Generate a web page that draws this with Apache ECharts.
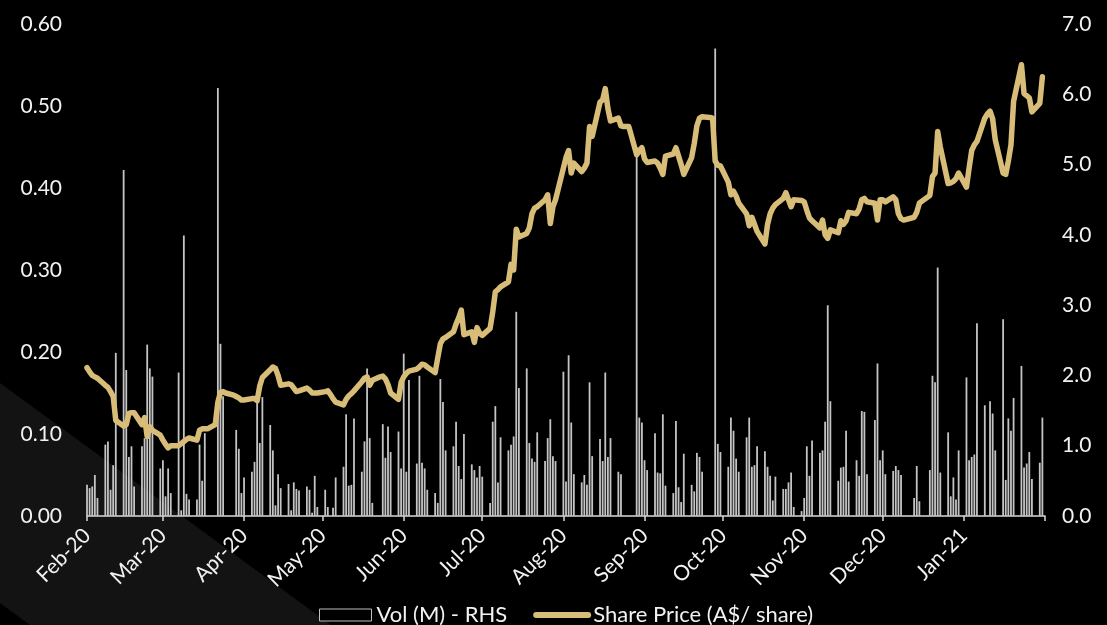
<!DOCTYPE html>
<html>
<head>
<meta charset="utf-8">
<script src="https://cdn.jsdelivr.net/npm/echarts@6/dist/echarts.min.js"></script>
<style>
  html, body { margin: 0; padding: 0; background: #000; }
  #chart { width: 1107px; height: 625px; }
</style>
</head>
<body>
<div id="chart"></div>
<script>
// Share price (A$/share), one value per weekday of each month
const priceFeb20 = [2.11,2.05,2.00,1.98,1.96, 1.86,1.83,1.77,1.70,1.36, 1.28,1.30,1.46,1.47,1.47, 1.30,1.40,1.13,1.27,1.22];
const priceMar20 = [1.15,1.08,1.02,0.97,1.00, 1.00,1.03,1.06,1.09,1.11, 1.08,1.22,1.24,1.24,1.24, 1.30,1.62,1.76,1.77,1.75, 1.72,1.70];
const priceApr20 = [1.68,1.65,1.65, 1.67,1.67,1.64,1.85,1.97, 2.08,2.12,2.10,2.00,1.86, 1.88,1.87,1.82,1.77,1.78, 1.82,1.79,1.75,1.75];
const priceMay20 = [1.75, 1.77,1.78,1.73,1.67,1.62, 1.58,1.66,1.71,1.74,1.78, 1.91,1.96,1.98,1.86,1.93, 1.98,1.99,1.95,1.87,1.75];
const priceJun20 = [1.66,1.90,1.98,2.03,2.06, 2.09,2.12,2.16,2.15,2.12, 2.04,2.25,2.45,2.52,2.54, 2.62,2.73,2.82,2.93,2.58, 2.62,2.47];
const priceJul20 = [2.68,2.60,2.57, 2.67,2.90,3.19,3.22,3.26, 3.33,3.58,3.50,4.08,3.97, 4.02,4.10,4.30,4.38,4.40, 4.50,4.57,4.16,4.40,4.50];
const priceAug20 = [4.95,5.10,5.20,4.88,5.02, 4.90,4.95,5.02,5.54,5.40, 5.89,5.92,6.08,5.80,5.62, 5.66,5.55,5.54,5.54,5.54, 5.14];
const priceSep20 = [5.20,5.24,5.08,5.03, 5.05,5.02,4.95,4.86,5.12, 5.15,5.24,5.12,5.00,4.86, 5.10,5.30,5.55,5.66,5.68, 5.67,5.66,5.05];
const priceOct20 = [4.99,4.98, 4.75,4.57,4.62,4.55,4.45, 4.30,4.13,4.25,4.15,4.05, 3.87,4.15,4.30,4.38,4.43, 4.52,4.60,4.50,4.40,4.50];
const priceNov20 = [4.49,4.47,4.35,4.24,4.20, 4.10,4.21,4.00,3.95,4.07, 4.03,4.20,4.15,4.20,4.32, 4.30,4.37,4.50,4.52,4.47, 4.45];
const priceDec20 = [4.21,4.50,4.50,4.47, 4.54,4.50,4.30,4.23,4.21, 4.24,4.25,4.32,4.45,4.48, 4.56,4.83,4.88,5.47,5.25, 4.73,4.74,4.76,4.80];
const priceJan21 = [4.88, 4.68,4.95,5.20,5.28,5.33, 5.66,5.72,5.76,5.65,5.35, 4.88,4.86,5.05,5.28,5.90, 6.42,6.01,5.98,5.95,5.75];
const priceFeb21 = [5.87,6.25];

// Volume (M), one value per weekday of each month (null = no trade)
const volFeb20 = [0.038,0.034,0.036,0.050,0.022, 0.087,0.091,0.032,0.062,0.199, 0.422,0.178,0.072,0.085,0.036, 0.085,0.095,0.209,0.180,0.170];
const volMar20 = [0.058,0.068,0.024,0.058,0.028, 0.175,0.007,0.342,0.027,0.020, 0.020,0.087,0.043,0.101,null, null,0.522,0.210,0.146,null, null,0.105];
const volApr20 = [0.082,0.028,0.047, 0.054,0.066,0.138,0.089,0.145, 0.111,0.080,0.013,0.051,0.034, 0.039,0.007,0.041,0.033,0.031, 0.036,0.032,0.004,0.049];
const volMay20 = [0.011, 0.032,0.011,null,0.010,0.047, 0.060,0.124,0.037,0.038,0.119, 0.054,0.091,0.180,0.095,0.016, null,0.112,0.071,0.109,0.078];
const volJun20 = [0.103,0.058,0.198,0.054,0.166, 0.064,0.171,0.065,0.058,0.032, 0.028,0.016,0.167,0.139,0.080, 0.085,0.115,0.061,0.045,0.100, 0.063,0.056];
const volJul20 = [0.047,0.061,0.048, 0.016,0.115,0.134,0.041,0.096, 0.080,0.087,0.097,0.249,0.156, 0.180,0.089,0.070,0.066,0.102, 0.067,0.095,0.118,0.073,0.067];
const volAug20 = [0.176,0.042,0.196,0.114,0.051, 0.041,0.050,0.038,0.163,0.073, 0.094,0.067,0.175,0.072,0.095, 0.054,0.051,null,null,null, 0.450];
const volSep20 = [0.120,0.114,0.068,0.056, 0.101,0.053,0.052,0.124,0.037, 0.028,0.116,0.035,0.017,0.076, 0.038,0.030,0.077,0.072,0.054, null,null,0.570];
const volOct20 = [0.088,0.078, 0.060,0.120,0.104,0.070,0.054, 0.096,0.120,0.060,0.062,0.085, 0.079,0.060,0.049,0.019,0.048, 0.033,0.033,0.041,0.053,0.011];
const volNov20 = [0.006,0.022,0.085,0.049,0.092, 0.077,0.080,0.115,0.257,0.140, 0.043,0.059,0.060,0.104,0.042, 0.068,0.049,0.128,0.127,0.051, 0.117];
const volDec20 = [0.186,0.068,0.080,0.051, 0.055,0.061,0.056,0.050,null, null,0.022,0.061,0.018,null, 0.056,0.171,0.163,0.303,0.053, 0.102,0.024,0.047,0.020];
const volJan21 = [0.080, 0.169,0.068,0.072,0.075,0.235, 0.135,null,0.140,0.125,0.080, 0.240,0.044,0.119,0.104,0.144, 0.183,0.059,0.064,0.078,0.045];
const volFeb21 = [0.065,0.120];

const monthNames = ['Jan','Feb','Mar','Apr','May','Jun','Jul','Aug','Sep','Oct','Nov','Dec'];
const legendVol = 'Vol (M) - RHS';
const legendPrice = 'Share Price (A$/ share)';

const priceByMonth = {
  '2020-1': priceFeb20, '2020-2': priceMar20, '2020-3': priceApr20, '2020-4': priceMay20,
  '2020-5': priceJun20, '2020-6': priceJul20, '2020-7': priceAug20, '2020-8': priceSep20,
  '2020-9': priceOct20, '2020-10': priceNov20, '2020-11': priceDec20, '2021-0': priceJan21, '2021-1': priceFeb21
};
const volByMonth = {
  '2020-1': volFeb20, '2020-2': volMar20, '2020-3': volApr20, '2020-4': volMay20,
  '2020-5': volJun20, '2020-6': volJul20, '2020-7': volAug20, '2020-8': volSep20,
  '2020-9': volOct20, '2020-10': volNov20, '2020-11': volDec20, '2021-0': volJan21, '2021-1': volFeb21
};

// Calendar-day categories: 3 Feb 2020 .. 3 Feb 2021
const start = Date.UTC(2020, 1, 3);
const DAY = 86400000;
const nDays = 367;
const categories = [];
const priceData = [];
const volData = [];
const counters = {};
for (let i = 0; i < nDays; i++) {
  const d = new Date(start + i * DAY);
  const y = d.getUTCFullYear(), m = d.getUTCMonth(), dd = d.getUTCDate(), wd = d.getUTCDay();
  categories.push(y + '-' + String(m + 1).padStart(2, '0') + '-' + String(dd).padStart(2, '0'));
  const key = y + '-' + m;
  if (wd >= 1 && wd <= 5 && priceByMonth[key]) {
    const c = counters[key] || 0;
    counters[key] = c + 1;
    const p = priceByMonth[key][c];
    const v = volByMonth[key][c];
    priceData.push(p === undefined ? null : p);
    volData.push(v === undefined ? null : v);
  } else {
    priceData.push(null);
    volData.push(null);
  }
}

function isTickDay(val) { return val.slice(8, 10) === '03'; }

const chart = echarts.init(document.getElementById('chart'), null, { renderer: 'canvas' });
const FONT = 'Lato';
const TXT = '#f2f2f2';
const GOLD = '#d8bd78';

chart.setOption({
  backgroundColor: '#000000',
  animation: false,
  textStyle: { fontFamily: FONT },
  graphic: [{
    type: 'polygon',
    silent: true,
    z: -10,
    shape: { points: [[0, 383], [331, 625], [30, 625], [0, 603]] },
    style: { fill: '#131313' }
  }],
  grid: { left: 87, right: 62, top: 24, bottom: 109, containLabel: false },
  legend: {
    left: 314,
    top: 599,
    itemWidth: 52,
    itemHeight: 12,
    itemGap: 26,
    textStyle: { color: TXT, fontSize: 22, fontFamily: FONT },
    data: [
      { name: legendVol, icon: 'rect', itemStyle: { color: '#000000', borderColor: '#bfbfbf', borderWidth: 1 } },
      { name: legendPrice, itemStyle: { opacity: 0 }, lineStyle: { color: GOLD, width: 6, cap: 'round' } }
    ]
  },
  xAxis: {
    type: 'category',
    data: categories,
    boundaryGap: false,
    axisLine: { show: true, lineStyle: { color: '#d9d9d9', width: 1.5 } },
    axisTick: {
      show: true, length: 5, lineStyle: { color: '#d9d9d9', width: 1.5 },
      interval: function (idx, val) { return isTickDay(val); }
    },
    axisLabel: {
      color: TXT, fontSize: 21, fontFamily: FONT, rotate: 45, margin: 16,
      interval: function (idx, val) { return isTickDay(val) && idx < nDays - 1; },
      formatter: function (val) {
        const m = parseInt(val.slice(5, 7), 10) - 1;
        return monthNames[m] + '-' + val.slice(2, 4);
      }
    },
    splitLine: { show: false }
  },
  yAxis: [
    {
      type: 'value', min: 0, max: 0.6, interval: 0.1,
      axisLine: { show: false }, axisTick: { show: false }, splitLine: { show: false },
      axisLabel: { color: TXT, fontSize: 21, fontFamily: FONT, margin: 25,
        formatter: function (v) { return v.toFixed(2); } }
    },
    {
      type: 'value', min: 0, max: 7, interval: 1, position: 'right',
      axisLine: { show: false }, axisTick: { show: false }, splitLine: { show: false },
      axisLabel: { color: TXT, fontSize: 21, fontFamily: FONT, margin: 17,
        formatter: function (v) { return v.toFixed(1); } }
    }
  ],
  series: [
    {
      name: legendVol,
      type: 'bar',
      yAxisIndex: 0,
      data: volData,
      barWidth: 1.8,
      itemStyle: { color: '#c4c4c4' },
      clip: false
    },
    {
      name: legendPrice,
      type: 'line',
      yAxisIndex: 1,
      data: priceData,
      connectNulls: true,
      symbol: 'none',
      showSymbol: false,
      lineStyle: { color: GOLD, width: 5.5, cap: 'round', join: 'round' },
      itemStyle: { color: GOLD },
      z: 5
    }
  ]
});
</script>
</body>
</html>
